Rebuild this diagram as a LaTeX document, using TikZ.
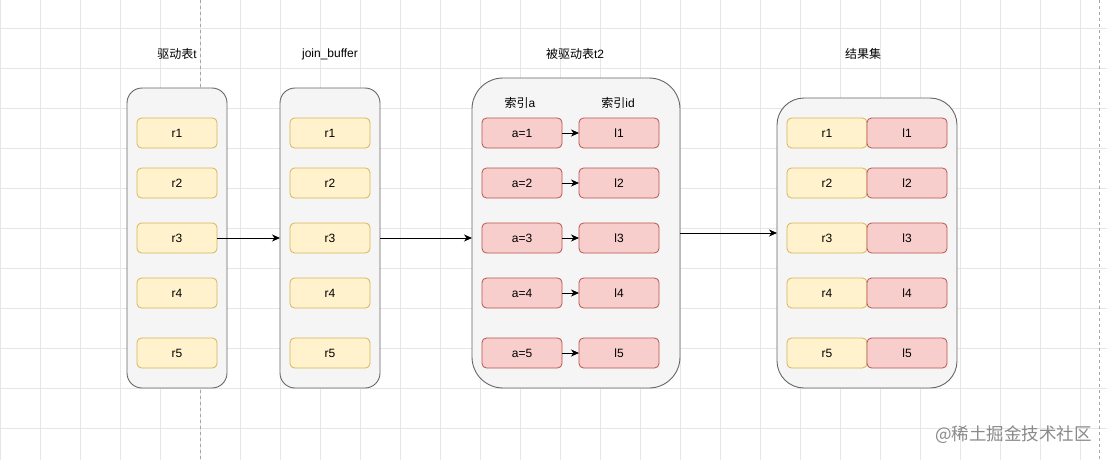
\documentclass[tikz,border=0pt]{standalone}
\usepackage{fontspec}
\setmainfont{Liberation Sans}
\newfontfamily\cjk{Noto Sans CJK SC}
\usetikzlibrary{arrows.meta}
\definecolor{gridc}{HTML}{E6E6E6}
\definecolor{contfill}{HTML}{F5F5F5}
\definecolor{contdraw}{HTML}{666666}
\definecolor{yfill}{HTML}{FFF2CC}
\definecolor{ydraw}{HTML}{D6B656}
\definecolor{rfill}{HTML}{F8CECC}
\definecolor{rdraw}{HTML}{B85450}
\definecolor{wmark}{HTML}{8A8A8A}
\tikzset{
  container/.style={draw=contdraw, fill=contfill, line width=0.9pt, inner sep=0pt, outer sep=0pt},
  ybox/.style={draw=ydraw, fill=yfill, line width=0.8pt, rounded corners=4.5pt, minimum width=80pt, minimum height=30pt, inner sep=0pt, outer sep=0pt, font=\fontsize{12}{14}\selectfont},
  rbox/.style={draw=rdraw, fill=rfill, line width=0.8pt, rounded corners=4.5pt, minimum width=80pt, minimum height=30pt, inner sep=0pt, outer sep=0pt, font=\fontsize{12}{14}\selectfont},
  title/.style={inner sep=0pt, font=\fontsize{12}{14}\selectfont},
  conn/.style={draw=black, line width=0.8pt, -{Stealth[length=8pt,width=7pt,inset=2.5pt]}},
  pageline/.style={draw=gray!70, line width=0.6pt, dash pattern=on 3pt off 3pt},
}
\begin{document}
\begin{tikzpicture}[x=1pt,y=-1pt]
\useasboundingbox (0,0) rectangle (1107,460);
\fill[white] (0,0) rectangle (1107,460);
% grid
\foreach \gx in {0,40,...,1080} \draw[gridc, line width=0.6pt] (\gx,0) -- (\gx,460);
\foreach \gy in {28,68,...,428} \draw[gridc, line width=0.6pt] (0,\gy) -- (1107,\gy);
% page boundaries
\draw[pageline] (200,0) -- (200,460);
\draw[pageline] (1099,0) -- (1099,460);

% titles
\node[title] (t1) at (177,54) {{\cjk 驱动表}t};
\node[title] (t2) at (330,54) {join\_buffer};
\node[title] (t3) at (575,54) {{\cjk 被驱动表}t2};
\node[title] (t4) at (863,54) {{\cjk 结果集}};

% containers
\node[container, rounded corners=15pt, minimum width=100pt, minimum height=300pt] (box1) at (177,238) {};
\node[container, rounded corners=15pt, minimum width=100pt, minimum height=300pt] (box2) at (330,238) {};
\node[container, rounded corners=31pt, minimum width=208pt, minimum height=310pt] (box3) at (576,233) {};
\node[container, rounded corners=27pt, minimum width=180pt, minimum height=290pt] (box4) at (867,243) {};

% column labels in box3
\node[title] (ia) at (520,103) {{\cjk 索引}a};
\node[title] (iid) at (618,103) {{\cjk 索引}id};

% rows
\foreach \i/\yy in {1/133,2/183,3/238,4/293,5/353} {
  \node[ybox] (a\i) at (177,\yy) {r\i};
  \node[ybox] (b\i) at (330,\yy) {r\i};
  \node[rbox] (c\i) at (522,\yy) {a=\i};
  \node[rbox] (d\i) at (619,\yy) {l\i};
  \node[ybox] (e\i) at (827,\yy) {r\i};
  \node[rbox] (f\i) at (907,\yy) {l\i};
  \draw[conn] (c\i.east) -- (d\i.west);
}

% connectors
\draw[conn] (a3.east) -- (box2.west);
\draw[conn] (box2.east) -- (box2.east -| box3.west);
\draw[conn] (box3.east) -- (box3.east -| box4.west);

% watermark
\node[inner sep=0pt, text=wmark, font=\cjk\fontsize{17.5}{20}\selectfont, anchor=east] (wm) at (1092,435) {@稀土掘金技术社区};
\end{tikzpicture}
\end{document}
